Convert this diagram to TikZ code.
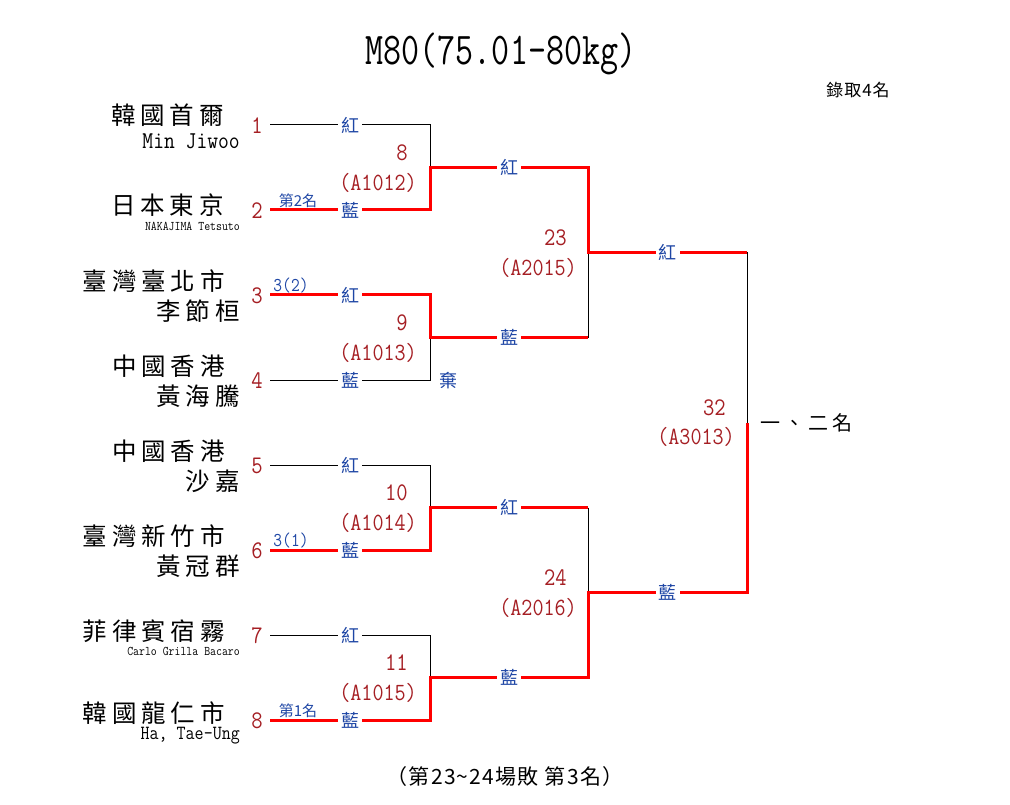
\documentclass[tikz,border=0pt]{standalone}
\usepackage{fontspec}
\usepackage{graphicx}
\newfontfamily\cjk{Noto Sans CJK TC}
\newfontfamily\cjkw[LetterSpace=20]{Noto Sans CJK TC}
\newfontfamily\cjkn[LetterSpace=6]{Noto Sans CJK TC}
\definecolor{cblue}{RGB}{30,70,165}
\definecolor{dred}{RGB}{165,30,35}
\newcommand\vs[2][1.15]{\scalebox{1}[#1]{#2}}
\tikzset{
  thinline/.style={draw=black, line width=1pt},
  winline/.style={draw=red, line width=3pt},
  side/.style={fill=white, inner xsep=3pt, inner ysep=1pt, text=cblue, font=\fontsize{18}{18}\selectfont\cjk},
  seed/.style={inner sep=0pt, text=dred, font=\fontsize{22}{22}\selectfont\ttfamily},
  mnum/.style={inner sep=0pt, anchor=east, text=dred, font=\fontsize{22}{22}\selectfont\ttfamily},
  mcode/.style={inner sep=0pt, anchor=east, text=dred, font=\fontsize{21.5}{21.5}\selectfont\ttfamily},
  cname/.style={inner sep=0pt, anchor=east, font=\fontsize{24.5}{24.5}\selectfont\cjkw},
  lname/.style={inner sep=0pt, anchor=east, font=\fontsize{21}{21}\selectfont\ttfamily},
  sname/.style={inner sep=0pt, anchor=east, font=\fontsize{11.5}{11.5}\selectfont\ttfamily},
  note/.style={inner sep=0pt, text=cblue, font=\fontsize{15}{15}\selectfont\cjk},
  lnote/.style={inner sep=0pt, text=cblue, font=\fontsize{17}{17}\selectfont\ttfamily},
}
\begin{document}
\begin{tikzpicture}[x=1pt,y=-1pt]
\useasboundingbox[fill=white] (0,0) rectangle (1010,805);
% coordinates
\foreach \i/\y in {1/125,2/210,3/295,4/380,5/465,6/550,7/635,8/720}{
  \coordinate (s\i) at (270,\y);
  \coordinate (e\i) at (430,\y);
}
\foreach \m/\y in {8/167.5,9/337.5,10/507.5,11/677.5}{
  \coordinate (m\m) at (430,\y);
  \coordinate (f\m) at (588,\y);
}
\coordinate (m23) at (588,252.5);
\coordinate (f23) at (747,252.5);
\coordinate (m24) at (588,592.5);
\coordinate (f24) at (747,592.5);
\coordinate (m32) at (747,422.5);

% thin (losing) lines
\draw[thinline] (s1) -- node[side] (l1) {紅} (e1) -- (m8);
\draw[thinline] (s4) -- node[side] (l4) {藍} (e4) -- (m9);
\draw[thinline] (s5) -- node[side] (l5) {紅} (e5) -- (m10);
\draw[thinline] (s7) -- node[side] (l7) {紅} (e7) -- (m11);
\draw[thinline] (f9) -- (m23);
\draw[thinline] (f10) -- (m24);
\draw[thinline] (f23) -- (m32);

% winning lines
\draw[winline] (s2) -- node[side] (l2) {藍} (e2) -- (m8) -- node[side] (l8) {紅} (f8) -- (m23) -- node[side] (l23) {紅} (f23);
\draw[winline] (s3) -- node[side] (l3) {紅} (e3) -- (m9) -- node[side] (l9) {藍} (f9);
\draw[winline] (s6) -- node[side] (l6) {藍} (e6) -- (m10) -- node[side] (l10) {紅} (f10);
\draw[winline] (s8) -- node[side] (l8b) {藍} (e8) -- (m11) -- node[side] (l11) {藍} (f11) -- (m24) -- node[side] (l24) {藍} (f24) -- (m32);

% seeds
\foreach \i/\y in {1/125,2/210,3/295,4/380,5/465,6/550,7/635,8/720}{
  \node[seed] (n\i) at (257,\y+1) {\vs{\i}};
}

% names
\node[cname] (a1) at (224,115) {韓國首爾};
\node[lname] (b1) at (240,141) {\vs{Min Jiwoo}};
\node[cname] (a2) at (224,205) {日本東京};
\node[sname] (b2) at (240,226) {\vs{NAKAJIMA Tetsuto}};
\node[cname] (a3) at (225,281) {臺灣臺北市};
\node[cname] (b3) at (240,311) {李節桓};
\node[cname] (a4) at (225,366) {中國香港};
\node[cname] (b4) at (240,396) {黃海騰};
\node[cname] (a5) at (225,451) {中國香港};
\node[cname] (b5) at (240,481) {沙嘉};
\node[cname] (a6) at (225,536) {臺灣新竹市};
\node[cname] (b6) at (240,566) {黃冠群};
\node[cname] (a7) at (225,631) {菲律賓宿霧};
\node[sname] (b7) at (240,651) {\vs{Carlo Grilla Bacaro}};
\node[cname] (a8) at (225,713) {韓國龍仁市};
\node[lname, font=\fontsize{17.5}{17.5}\selectfont\ttfamily] (b8) at (240,736) {\vs{Ha, Tae-Ung}};

% match numbers
\node[mnum] (x8) at (408,152.5) {\vs{8}};
\node[mcode] (y8) at (417,182.5) {\vs{(A1012)}};
\node[mnum] (x9) at (408,322.5) {\vs{9}};
\node[mcode] (y9) at (417,352.5) {\vs{(A1013)}};
\node[mnum] (x10) at (408,492.5) {\vs{10}};
\node[mcode] (y10) at (417,522.5) {\vs{(A1014)}};
\node[mnum] (x11) at (408,662.5) {\vs{11}};
\node[mcode] (y11) at (417,692.5) {\vs{(A1015)}};
\node[mnum] (x23) at (567,237.5) {\vs{23}};
\node[mcode] (y23) at (577,267.5) {\vs{(A2015)}};
\node[mnum] (x24) at (567,577.5) {\vs{24}};
\node[mcode] (y24) at (577,607.5) {\vs{(A2016)}};
\node[mnum] (x32) at (726,407.5) {\vs{32}};
\node[mcode] (y32) at (735,437) {\vs{(A3013)}};

% notes
\node[note] (r2) at (298,201) {第2名};
\node[lnote] (r3) at (291,286) {\vs{3(2)}};
\node[lnote] (r6) at (291,541) {\vs{3(1)}};
\node[note] (r8) at (298,711) {第1名};
\node[side, fill=none] (qi) at (448,381) {棄};

% titles
\node[inner sep=0pt, font=\fontsize{35}{35}\selectfont\ttfamily] (title) at (501,54) {\vs[1.3]{M80(75.01-80kg)}};
\node[inner sep=0pt, font=\fontsize{17}{17}\selectfont\cjkn] (quota) at (858,90) {錄取4名};
\node[inner sep=0pt, anchor=west, font=\fontsize{20}{20}\selectfont\cjkw] (top2) at (760,423) {一、二名};
\node[inner sep=0pt, font=\fontsize{21}{21}\selectfont\cjkn] (third) at (505,777) {（第23\string~24場敗 第3名）};
\end{tikzpicture}
\end{document}
